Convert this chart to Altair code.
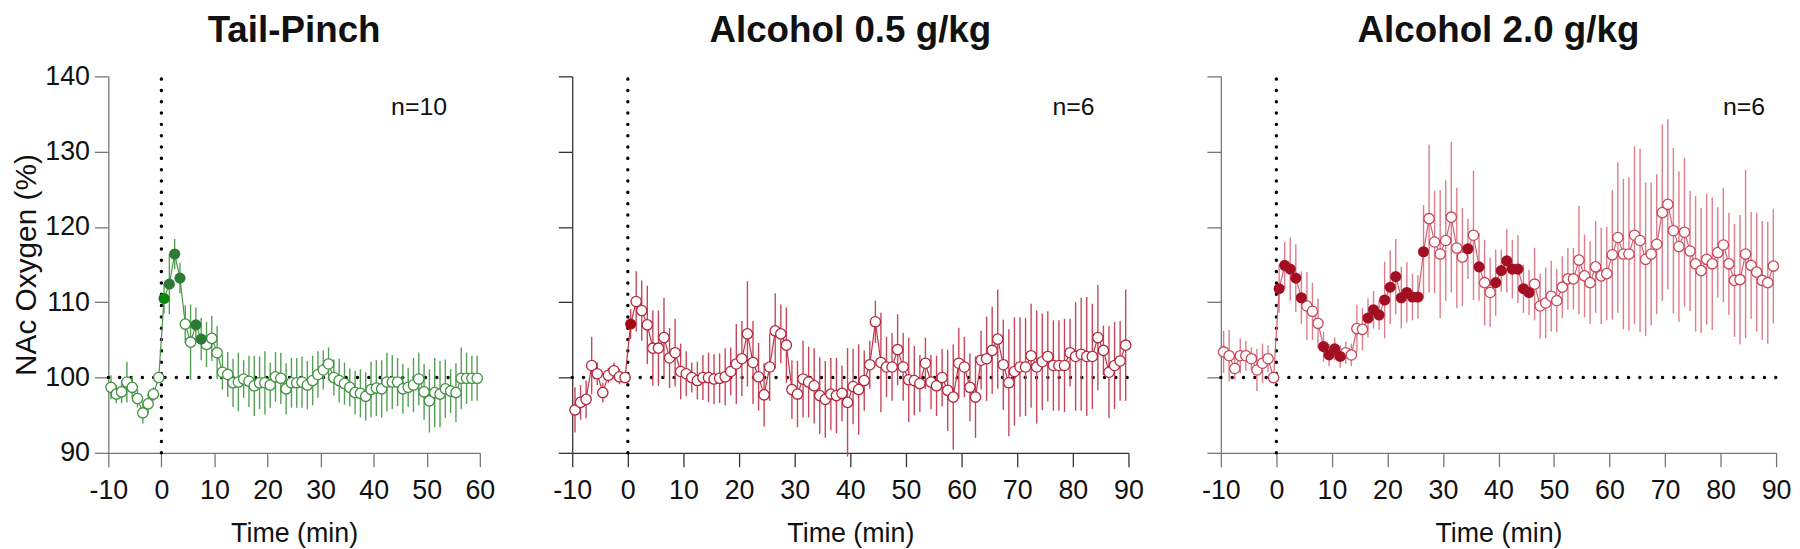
import altair as alt
import pandas as pd

FONT = "Liberation Sans"

# ---------------- data ----------------
tp_vals = [98.7, 97.8, 98.1, 99.4, 98.7, 97.2, 95.3, 96.5, 97.8, 100.0,
           110.5, 112.4, 116.4, 113.2, 107.1, 104.7, 107.0, 105.1, 104.4, 105.2,
           103.3, 100.7, 100.4, 99.3, 99.4, 99.8, 99.5, 98.9, 99.3, 99.3,
           99.0, 100.1, 99.9, 98.5, 99.3, 99.3, 99.4, 99.0, 99.6, 100.4,
           101.0, 101.8, 100.0, 99.6, 99.2, 98.7, 98.0, 97.9, 97.5, 98.4,
           98.6, 98.5, 99.4, 99.4, 99.4, 98.5, 98.7, 99.0, 99.8, 98.1,
           96.9, 98.0, 97.8, 98.5, 98.2, 98.0, 99.9, 99.9, 99.9, 99.9]
tp_errs = [1.6, 1.2, 1.5, 2.7, 1.5, 1.2, 1.4, 1.3, 0.9, 0.5,
           2.0, 4.0, 2.0, 2.0, 2.5, 5.0, 2.3, 2.8, 3.0, 3.0,
           3.5, 2.3, 3.0, 3.2, 3.9, 2.5, 3.4, 4.0, 3.5, 4.2,
           3.0, 3.3, 3.4, 3.4, 3.3, 3.3, 3.4, 3.2, 3.3, 3.1,
           2.6, 2.2, 2.4, 2.9, 2.8, 2.5, 2.9, 3.2, 3.2, 3.7,
           3.7, 3.8, 3.9, 3.6, 3.2, 3.3, 2.6, 3.6, 3.5, 3.7,
           4.2, 4.6, 4.4, 3.9, 2.9, 3.9, 4.1, 3.4, 3.0, 3.0]
tp_filled = [10, 11, 12, 13, 16, 17]
tp_bright = [10]

a05_vals = [95.7, 96.7, 97.1, 101.6, 100.5, 98.0, 100.3, 100.9, 100.1, 100.0,
            107.1, 110.1, 108.9, 107.0, 103.9, 103.9, 105.3, 102.6, 103.3, 100.8,
            100.5, 100.0, 99.6, 100.0, 100.0, 99.8, 99.9, 100.1, 100.8, 101.8,
            102.5, 105.8, 102.0, 100.1, 97.7, 101.4, 106.2, 105.8, 104.3, 98.4,
            97.8, 99.8, 99.4, 98.9, 97.6, 97.1, 97.8, 97.6, 97.9, 96.7,
            98.8, 98.4, 99.6, 101.7, 107.4, 102.0, 101.4, 101.4, 103.7, 101.4,
            99.7, 99.6, 99.2, 101.9, 99.4, 98.9, 100.0, 98.3, 97.4, 101.9,
            101.4, 98.7, 97.4, 102.3, 102.5, 103.6, 105.1, 101.7, 99.3, 100.8,
            101.4, 101.4, 102.9, 101.4, 102.1, 102.8, 101.6, 101.6, 101.6, 103.3,
            102.8, 103.1, 102.8, 102.8, 105.3, 103.6, 100.7, 101.6, 102.2, 104.3]
a05_errs = [3.0, 2.3, 2.5, 3.8, 1.5, 1.3, 1.0, 1.1, 1.0, 0.6,
            2.0, 4.0, 4.0, 5.2, 5.0, 5.0, 5.3, 4.0, 4.5, 3.7,
            3.0, 2.0, 2.5, 3.0, 3.3, 3.3, 3.3, 3.8, 3.2, 5.3,
            5.0, 7.0, 5.5, 4.5, 4.2, 4.5, 5.0, 3.9, 5.0, 3.9,
            4.4, 5.1, 4.7, 5.0, 5.1, 5.1, 4.8, 5.0, 3.7, 7.2,
            5.0, 6.0, 4.0, 3.2, 2.8, 6.6, 4.0, 4.5, 4.7, 4.5,
            5.6, 4.6, 3.8, 3.4, 3.6, 4.0, 3.8, 5.4, 7.0, 4.7,
            4.0, 4.5, 5.4, 3.9, 5.6, 5.8, 6.6, 6.0, 7.1, 7.2,
            6.6, 6.5, 6.9, 7.5, 6.4, 6.0, 6.0, 6.0, 6.2, 4.5,
            7.2, 7.5, 7.9, 7.0, 7.0, 3.3, 6.1, 5.8, 5.3, 7.4]
a05_filled = [10]

a20_vals = [103.4, 102.9, 101.2, 102.9, 102.9, 102.5, 101.0, 101.9, 102.5, 100.0,
            111.8, 114.9, 114.4, 113.2, 110.6, 109.5, 108.8, 107.2, 104.1, 103.0,
            103.8, 102.8, 103.3, 103.0, 106.5, 106.4, 107.9, 109.0, 108.3, 110.3,
            112.0, 113.4, 110.6, 111.3, 110.7, 110.7, 116.7, 121.1, 118.0, 116.4,
            118.2, 121.3, 117.2, 116.0, 117.1, 118.9, 114.7, 112.6, 111.3, 112.6,
            114.2, 115.5, 114.4, 114.4, 111.8, 111.3, 112.4, 109.5, 109.9, 110.8,
            110.2, 112.0, 113.1, 113.1, 115.6, 113.5, 112.6, 114.7, 113.5, 113.8,
            116.3, 118.6, 116.4, 116.4, 118.9, 118.2, 115.7, 116.4, 117.7, 121.9,
            123.0, 119.5, 117.4, 119.3, 116.8, 115.1, 114.2, 115.7, 115.1, 116.6,
            117.6, 115.1, 112.9, 113.0, 116.4, 114.9, 114.0, 112.9, 112.6, 114.8]
a20_errs = [2.8, 3.4, 1.5, 2.3, 2.0, 1.5, 2.8, 2.6, 1.8, 0.8,
            3.2, 3.1, 4.2, 4.5, 3.5, 4.5, 3.8, 3.3, 2.0, 1.5,
            1.5, 1.5, 1.5, 1.5, 3.2, 2.8, 2.6, 2.5, 2.0, 5.1,
            4.9, 5.0, 4.1, 4.0, 3.1, 2.9, 6.2, 9.8, 6.8, 8.5,
            8.0, 10.0, 8.0, 6.5, 4.0, 8.6, 4.5, 5.7, 4.6, 4.4,
            2.8, 4.2, 3.9, 4.5, 3.2, 3.0, 4.8, 4.3, 4.7, 4.7,
            4.2, 4.1, 4.1, 4.1, 7.2, 5.5, 5.5, 6.1, 6.4, 6.2,
            8.6, 10.0, 10.0, 10.2, 11.8, 12.2, 10.2, 9.5, 9.3, 11.7,
            11.3, 11.0, 10.0, 9.9, 8.0, 9.0, 8.3, 8.7, 8.8, 6.0,
            7.6, 6.8, 7.5, 8.6, 11.2, 7.1, 7.9, 7.9, 8.1, 7.6]
a20_filled = [10, 11, 12, 13, 14, 18, 19, 20, 21,
              26, 27, 28, 29, 30, 31, 32, 33, 34, 35, 36,
              44, 46, 49, 50, 51, 52, 53, 54, 55]

titles = ["Tail-Pinch", "Alcohol 0.5 g/kg", "Alcohol 2.0 g/kg"]
n_labels = ["n=10", "n=6", "n=6"]
x_max = [60, 90, 90]
y_ticks = [90, 95, 100, 105, 110, 115, 120, 125, 130, 135, 140]

H = 379
TICK_COND = {"condition": {"test": "datum.value % 10 === 0", "value": 14}, "value": 7}
LABEL_EXPR = "datum.value % 10 === 0 ? '' + datum.value : ''"


def make_panel(i, vals, errs, filled, bright, width, err_col, line_col, open_col,
               fill_col, bright_col, n_x, show_y, axis_col):
    times = [-9.5 + k for k in range(len(vals))]
    rows = []
    for k, (t, v, e) in enumerate(zip(times, vals, errs)):
        if k in bright:
            kind, fc = "filled", bright_col
        elif k in filled:
            kind, fc = "filled", fill_col
        else:
            kind, fc = "open", "white"
        rows.append({"t": t, "v": v, "lo": v - e, "hi": v + e, "kind": kind, "fc": fc})
    df = pd.DataFrame(rows)

    xmax = x_max[i]
    xs = alt.Scale(domain=[-10, xmax], nice=False, zero=False)
    ys = alt.Scale(domain=[90, 140], nice=False, zero=False)

    x_axis = alt.Axis(values=list(range(-10, xmax + 1, 5)), labelExpr=LABEL_EXPR,
                      tickSize=TICK_COND, title="Time (min)", grid=False,
                      labelFontSize=27, labelFont=FONT, labelColor="#111",
                      labelPadding=11, titleFont=FONT, titleFontSize=27,
                      titleFontWeight="normal", titleColor="#111", titlePadding=17,
                      domainColor=axis_col, tickColor=axis_col, domainWidth=1.3,
                      tickWidth=1.3, labelOverlap=False, labelFlush=False)
    y_axis = alt.Axis(values=y_ticks, labelExpr=LABEL_EXPR if show_y else "''",
                      labels=show_y,
                      tickSize=TICK_COND, title="NAc Oxygen (%)" if show_y else None,
                      grid=False, labelFontSize=27, labelFont=FONT, labelColor="#111",
                      labelPadding=5, titleFont=FONT, titleFontSize=30,
                      titleFontWeight="normal", titleColor="#111", titlePadding=3,
                      domainColor=axis_col, tickColor=axis_col, domainWidth=1.3,
                      tickWidth=1.3, labelOverlap=False, labelFlush=False)

    base = alt.Chart(df)
    dot = dict(color="black", strokeWidth=3.4, strokeDash=[0.1, 11.3], strokeCap="round")

    vline = alt.Chart(pd.DataFrame({"x": [0], "y": [90], "y2": [140]})).mark_rule(**dot).encode(
        x=alt.X("x:Q", scale=xs, axis=x_axis), y=alt.Y("y:Q", scale=ys, axis=y_axis), y2="y2:Q")
    hline = alt.Chart(pd.DataFrame({"x": [-10], "x2": [xmax], "y": [100]})).mark_rule(**dot).encode(
        x=alt.X("x:Q", scale=xs), x2="x2:Q", y=alt.Y("y:Q", scale=ys))

    bars = base.mark_rule(color=err_col, strokeWidth=1.4).encode(
        x=alt.X("t:Q", scale=xs), y=alt.Y("lo:Q", scale=ys), y2="hi:Q")
    line = base.mark_line(color=line_col, strokeWidth=1.2).encode(
        x=alt.X("t:Q", scale=xs), y=alt.Y("v:Q", scale=ys))
    pts_open = base.transform_filter("datum.kind == 'open'").mark_point(
        shape="circle", filled=True, fill="white", stroke=open_col, strokeWidth=1.3,
        size=108, opacity=1).encode(x=alt.X("t:Q", scale=xs), y=alt.Y("v:Q", scale=ys))
    pts_fill = base.transform_filter("datum.kind == 'filled'").mark_point(
        shape="circle", filled=True, size=125, opacity=1, strokeWidth=0).encode(
        x=alt.X("t:Q", scale=xs), y=alt.Y("v:Q", scale=ys),
        fill=alt.Fill("fc:N", scale=None))

    ntext = alt.Chart(pd.DataFrame({"lab": [n_labels[i]]})).mark_text(
        align="right", baseline="middle", fontSize=25, font=FONT, color="#111"
    ).encode(x=alt.value(n_x), y=alt.value(31), text="lab:N")

    ttext = alt.Chart(pd.DataFrame({"lab": [titles[i]]})).mark_text(
        align="center", baseline="alphabetic", fontSize=37, fontWeight="bold",
        font=FONT, color="#111"
    ).encode(x=alt.value(width / 2), y=alt.value(-35), text="lab:N")

    return alt.layer(vline, hline, bars, line, pts_open, pts_fill, ntext, ttext).properties(
        width=width, height=H)


p1 = make_panel(0, tp_vals, tp_errs, tp_filled, tp_bright, 374,
                "#55a055", "#4a964a", "#3f8f3f", "#2b7a35", "#0c840c", 341, True, "#777")
p2 = make_panel(1, a05_vals, a05_errs, a05_filled, [], 560,
                "#c8465a", "#bb3447", "#b5243a", "#a50a12", "#a50a12", 526, False, "#333")
p3 = make_panel(2, a20_vals, a20_errs, a20_filled, [], 559,
                "#de7d8b", "#d06272", "#c84457", "#a30f22", "#a30f22", 548, False, "#777")

chart = alt.hconcat(p1, p2, p3, spacing=93, bounds="flush").properties(
    padding={"left": 3, "top": 2, "right": 0, "bottom": 0}
).configure_view(stroke=None)

chart.save("out.html", embed_options={"renderer": "svg", "actions": False})
